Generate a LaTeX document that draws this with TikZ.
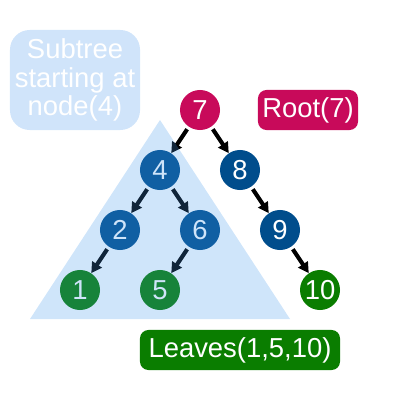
\documentclass[tikz,border=0pt]{standalone}
\usepackage{fontspec}
\setmainfont{Liberation Sans}
\usetikzlibrary{arrows.meta}
\definecolor{rootred}{RGB}{200,10,90}
\definecolor{nodeblue}{RGB}{0,77,140}
\definecolor{leafgreen}{RGB}{10,125,0}
\definecolor{subblue}{RGB}{208,228,250}
\definecolor{shadeblue}{RGB}{64,150,235}
\begin{document}
\begin{tikzpicture}[x=0.025cm, y=-0.025cm,
    knot/.style={circle, fill=#1, text=white, minimum size=1cm, inner sep=0pt,
      font=\fontsize{19.5}{20}\selectfont},
    tag/.style={fill=#1, text=white, rounded corners=6pt, minimum height=1cm,
      inner sep=0pt, font=\fontsize{19.5}{20}\selectfont},
    link/.style={-{Triangle[length=7.5pt,width=8pt]}, line width=2.9pt, shorten <=2pt}]
    \useasboundingbox (0,0) rectangle (400,400);
    % Noeuds
    \node[knot=rootred] (n7) at (200,110) {7};
    \node[knot=nodeblue] (n4) at (160,170) {4};
    \node[knot=nodeblue] (n8) at (240,170) {8};
    \node[knot=nodeblue] (n2) at (120,230) {2};
    \node[knot=nodeblue] (n6) at (200,230) {6};
    \node[knot=nodeblue] (n9) at (280,230) {9};
    \node[knot=leafgreen] (n1) at (80,290) {1};
    \node[knot=leafgreen] (n5) at (160,290) {5};
    \node[knot=leafgreen] (n10) at (320,290) {10};
    % Arêtes
    \draw[link] (n7) -- (n4);
    \draw[link] (n7) -- (n8);
    \draw[link] (n4) -- (n2);
    \draw[link] (n4) -- (n6);
    \draw[link] (n8) -- (n9);
    \draw[link] (n2) -- (n1);
    \draw[link] (n6) -- (n5);
    \draw[link] (n9) -- (n10);
    % Sous-arbre
    \fill[shadeblue, fill opacity=0.25] (160,120) -- (290,319) -- (30,319) -- cycle;
    % Etiquettes
    \node[tag=subblue, rounded corners=14pt, minimum width=3.25cm, minimum height=2.5cm,
      align=center] (subtree) at (75,80) {Subtree\\starting at\\node(4)};
    \node[tag=rootred, minimum width=2.5cm] (root) at (308,110) {Root(7)};
    \node[tag=leafgreen, minimum width=5cm] (leaves) at (240,350) {Leaves(1,5,10)};
\end{tikzpicture}
\end{document}
